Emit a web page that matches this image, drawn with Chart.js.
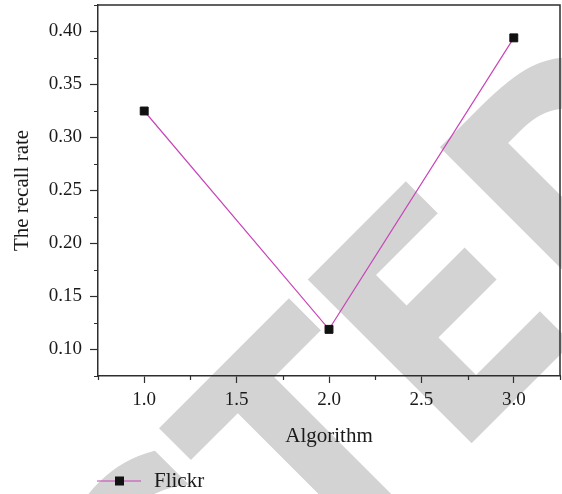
<!DOCTYPE html>
<html>
<head>
<meta charset="utf-8">
<script src="https://cdn.jsdelivr.net/npm/chart.js@4"></script>
<style>
  html, body { margin: 0; padding: 0; background: #fff; }
  #wrap { width: 562px; height: 494px; }
</style>
</head>
<body>
<div id="wrap"><canvas id="chart"></canvas></div>
<script>
// data
const algorithms = [1, 2, 3];
const recallFlickr = [0.325, 0.119, 0.394];
const seriesName = 'Flickr';

// axis ticks (major ones carry labels)
const xMajor = [1.0, 1.5, 2.0, 2.5, 3.0];
const xMinor = [0.75, 1.25, 1.75, 2.25, 2.75, 3.25];
const yMajor = [0.10, 0.15, 0.20, 0.25, 0.30, 0.35, 0.40];
const yMinor = [0.075, 0.125, 0.175, 0.225, 0.275, 0.325, 0.375, 0.425];

const watermark = 'RETRACTED';

const serif = '"Liberation Serif", "Times New Roman", serif';
const axisColor = '#2e2e2e';
const lineColor = '#c845b8';
const markColor = '#111111';

function buildTicks(major, minor) {
    return function(scale) {
        const t = major.map(v => ({ value: v, minor: false }))
            .concat(minor.map(v => ({ value: v, minor: true })));
        t.sort((a, b) => a.value - b.value);
        scale.ticks = t;
    };
}

function tickLabel(digits) {
    return function(value, i, ticks) {
        return ticks[i].minor ? '' : value.toFixed(digits);
    };
}

const majorOnly = c => (c.tick && c.tick.minor) ? 'rgba(0,0,0,0)' : axisColor;

// grey diagonal stamp behind everything
const watermarkPlugin = {
    id: 'watermark',
    beforeDraw(chart) {
        const ctx = chart.ctx;
        ctx.save();
        ctx.font = 'bold 318px "DejaVu Sans"';
        ctx.fillStyle = '#d3d3d3';
        ctx.textAlign = 'left';
        ctx.textBaseline = 'alphabetic';
        const lead = ctx.measureText('RETRACT').width - ctx.measureText('E').actualBoundingBoxLeft;
        ctx.translate(469, 446);
        ctx.rotate(-Math.PI / 4);
        ctx.scale(0.86, 1);
        ctx.fillText(watermark, -lead, 0);
        ctx.restore();
    }
};

// box frame, short minor ticks and the line+marker legend
const framePlugin = {
    id: 'frame',
    afterDraw(chart) {
        const ctx = chart.ctx;
        const a = chart.chartArea;
        ctx.save();
        ctx.strokeStyle = axisColor;
        ctx.lineWidth = 1.5;
        ctx.beginPath();
        ctx.moveTo(a.left, a.top);
        ctx.lineTo(a.right, a.top);
        ctx.lineTo(a.right, a.bottom);
        ctx.stroke();

        ctx.lineWidth = 1.2;
        ctx.beginPath();
        chart.scales.x.ticks.forEach(t => {
            if (!t.minor) return;
            const px = Math.round(chart.scales.x.getPixelForValue(t.value)) + 0.5;
            ctx.moveTo(px, a.bottom);
            ctx.lineTo(px, a.bottom + 4);
        });
        chart.scales.y.ticks.forEach(t => {
            if (!t.minor) return;
            const py = Math.round(chart.scales.y.getPixelForValue(t.value)) + 0.5;
            ctx.moveTo(a.left, py);
            ctx.lineTo(a.left - 4, py);
        });
        ctx.stroke();

        const ds = chart.data.datasets[0];
        const ly = chart.height - 13;
        const lx = a.left - 1;
        ctx.strokeStyle = ds.borderColor;
        ctx.lineWidth = 1.2;
        ctx.beginPath();
        ctx.moveTo(lx, ly);
        ctx.lineTo(lx + 44, ly);
        ctx.stroke();
        ctx.fillStyle = ds.pointBackgroundColor;
        ctx.fillRect(lx + 18, ly - 4.5, 9, 9);
        ctx.fillStyle = '#1a1a1a';
        ctx.font = '21px ' + serif;
        ctx.textBaseline = 'middle';
        ctx.textAlign = 'left';
        ctx.fillText(ds.label, lx + 57, ly);
        ctx.restore();
    }
};

const ctx = document.getElementById('chart').getContext('2d');
new Chart(ctx, {
    type: 'line',
    data: {
        datasets: [{
            label: seriesName,
            data: algorithms.map((x, i) => ({ x: x, y: recallFlickr[i] })),
            borderColor: lineColor,
            borderWidth: 1.2,
            pointStyle: 'rect',
            pointRadius: 5.6,
            pointBackgroundColor: markColor,
            pointBorderColor: markColor,
            pointBorderWidth: 1,
            tension: 0,
            fill: false
        }]
    },
    options: {
        responsive: true,
        maintainAspectRatio: false,
        animation: false,
        layout: { autoPadding: false, padding: { top: 5, right: 2, bottom: 40, left: 0 } },
        plugins: {
            legend: { display: false },
            tooltip: { enabled: false }
        },
        scales: {
            x: {
                type: 'linear',
                position: 'bottom',
                min: 0.75,
                max: 3.25,
                afterBuildTicks: buildTicks(xMajor, xMinor),
                afterFit: s => { s.height = 78; s.paddingLeft = 0; s.paddingRight = 0; },
                ticks: {
                    autoSkip: false,
                    maxRotation: 0,
                    padding: 6,
                    color: '#1a1a1a',
                    font: { family: serif, size: 19 },
                    callback: tickLabel(1)
                },
                grid: { drawOnChartArea: false, tickLength: 7, tickWidth: 1.2, tickColor: majorOnly },
                border: { color: axisColor, width: 1.5 },
                title: {
                    display: true,
                    text: 'Algorithm',
                    color: '#1a1a1a',
                    font: { family: serif, size: 21 },
                    padding: { top: 0, bottom: 5 }
                }
            },
            y: {
                type: 'linear',
                min: 0.075,
                max: 0.425,
                afterBuildTicks: buildTicks(yMajor, yMinor),
                afterFit: s => { s.width = 98; s.paddingTop = 0; s.paddingBottom = 0; },
                ticks: {
                    autoSkip: false,
                    padding: 8,
                    color: '#1a1a1a',
                    font: { family: serif, size: 19 },
                    callback: tickLabel(2)
                },
                grid: { drawOnChartArea: false, tickLength: 8, tickWidth: 1.2, tickColor: majorOnly },
                border: { color: axisColor, width: 1.5 },
                title: {
                    display: true,
                    text: 'The recall rate',
                    color: '#1a1a1a',
                    font: { family: serif, size: 21 },
                    padding: { top: 10, bottom: 0 }
                }
            }
        }
    },
    plugins: [watermarkPlugin, framePlugin]
});
</script>
</body>
</html>
